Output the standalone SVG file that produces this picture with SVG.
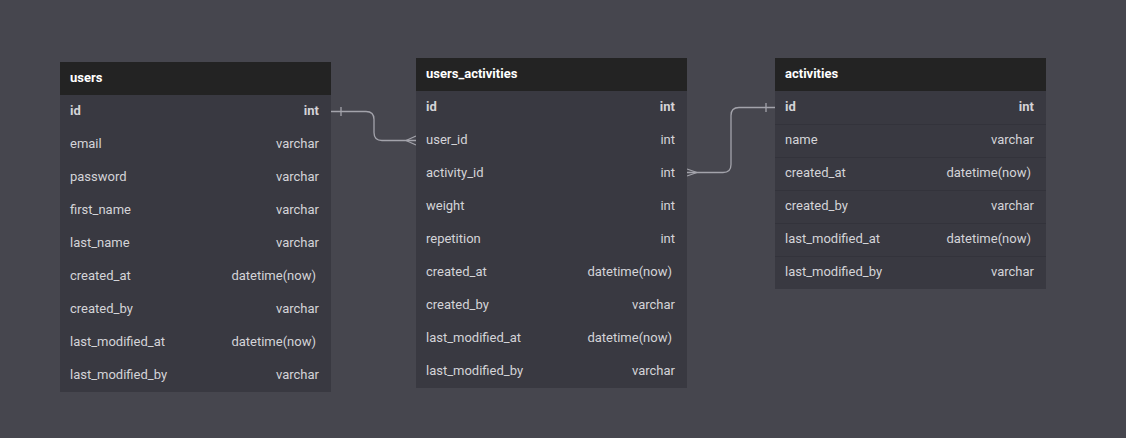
<svg xmlns="http://www.w3.org/2000/svg" width="1126" height="438" viewBox="0 0 1126 438">
<style>
.bg{fill:#46464e}
.body{fill:#393941}
.head{fill:#232323}
.sep{stroke:#33333b;stroke-width:1}
.title{font-family:Roboto,"Liberation Sans",sans-serif;font-size:13px;font-weight:bold;fill:#ffffff}
.f{font-family:Roboto,"Liberation Sans",sans-serif;font-size:13px;fill:#d4d4d8}
.t{font-family:Roboto,"Liberation Sans",sans-serif;font-size:13px;fill:#d4d4d8;text-anchor:end}
.b{font-weight:bold}
.conn{fill:none;stroke:#a3a3ab;stroke-width:1.3}
</style>
<rect class="bg" x="0" y="0" width="1126" height="438"/>
<g id="connectors">
<path class="conn" d="M331,111.5 H366 Q374,111.5 374,119.5 V132.5 Q374,140.5 382,140.5 H416"/>
<path class="conn" d="M341,107 V116"/>
<path class="conn" d="M406,140.5 L416,136 M406,140.5 L416,145"/>
<path class="conn" d="M687,172.5 H723 Q731,172.5 731,164.5 V115.5 Q731,107.5 739,107.5 H775"/>
<path class="conn" d="M766,103 V112"/>
<path class="conn" d="M697,172.5 L687,169 M697,172.5 L687,176"/>
</g>
<g id="users">
<rect class="body" x="60" y="62" width="271" height="330"/>
<rect class="head" x="60" y="62" width="271" height="33"/>
<text class="title" x="70" y="82">users</text>
<text class="f b" x="70" y="115">id</text><text class="t b" x="319" y="115">int</text>
<text class="f" x="70" y="148">email</text><text class="t" x="319" y="148">varchar</text>
<text class="f" x="70" y="181">password</text><text class="t" x="319" y="181">varchar</text>
<text class="f" x="70" y="214">first_name</text><text class="t" x="319" y="214">varchar</text>
<text class="f" x="70" y="247">last_name</text><text class="t" x="319" y="247">varchar</text>
<text class="f" x="70" y="280">created_at</text><text class="t" x="316" y="280">datetime(now)</text>
<text class="f" x="70" y="313">created_by</text><text class="t" x="319" y="313">varchar</text>
<text class="f" x="70" y="346">last_modified_at</text><text class="t" x="316" y="346">datetime(now)</text>
<text class="f" x="70" y="379">last_modified_by</text><text class="t" x="319" y="379">varchar</text>
</g>
<g id="users_activities">
<rect class="body" x="416" y="58" width="271" height="330"/>
<rect class="head" x="416" y="58" width="271" height="33"/>
<text class="title" x="426" y="78">users_activities</text>
<text class="f b" x="426" y="111">id</text><text class="t b" x="675" y="111">int</text>
<text class="f" x="426" y="144">user_id</text><text class="t" x="675" y="144">int</text>
<text class="f" x="426" y="177">activity_id</text><text class="t" x="675" y="177">int</text>
<text class="f" x="426" y="210">weight</text><text class="t" x="675" y="210">int</text>
<text class="f" x="426" y="243">repetition</text><text class="t" x="675" y="243">int</text>
<text class="f" x="426" y="276">created_at</text><text class="t" x="672" y="276">datetime(now)</text>
<text class="f" x="426" y="309">created_by</text><text class="t" x="675" y="309">varchar</text>
<text class="f" x="426" y="342">last_modified_at</text><text class="t" x="672" y="342">datetime(now)</text>
<text class="f" x="426" y="375">last_modified_by</text><text class="t" x="675" y="375">varchar</text>
</g>
<g id="activities">
<rect class="body" x="775" y="58" width="271" height="231"/>
<rect class="head" x="775" y="58" width="271" height="33"/>
<path class="sep" d="M775,124.5 H1046 M775,157.5 H1046 M775,190.5 H1046 M775,223.5 H1046 M775,256.5 H1046"/>
<text class="title" x="785" y="78">activities</text>
<text class="f b" x="785" y="111">id</text><text class="t b" x="1034" y="111">int</text>
<text class="f" x="785" y="144">name</text><text class="t" x="1034" y="144">varchar</text>
<text class="f" x="785" y="177">created_at</text><text class="t" x="1031" y="177">datetime(now)</text>
<text class="f" x="785" y="210">created_by</text><text class="t" x="1034" y="210">varchar</text>
<text class="f" x="785" y="243">last_modified_at</text><text class="t" x="1031" y="243">datetime(now)</text>
<text class="f" x="785" y="276">last_modified_by</text><text class="t" x="1034" y="276">varchar</text>
</g>
</svg>
